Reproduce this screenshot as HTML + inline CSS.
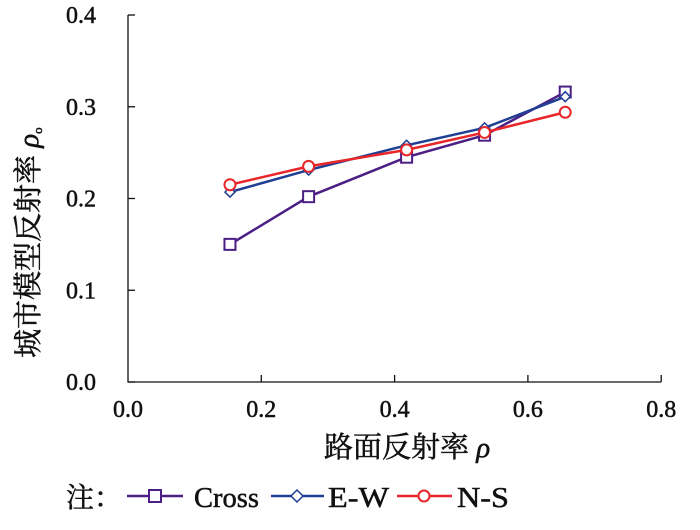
<!DOCTYPE html>
<html><head><meta charset="utf-8"><style>
body{margin:0;background:#fff}
svg text{font-family:"Liberation Serif","Noto Serif CJK SC",serif;fill:#111}
.b{stroke:#111;stroke-width:0.5}
</style></head><body>
<svg id="chart" width="700" height="525" viewBox="0 0 700 525">
<g id="axes"></g><g id="series"></g>
<text x="0" y="0" font-size="29" class="b" transform="translate(38 358) rotate(-90)">城市模型反射率 <tspan font-style="italic">ρ</tspan><tspan font-size="13" dy="4">o</tspan></text>
<text x="324" y="457" font-size="29" class="b">路面反射率 <tspan font-style="italic">ρ</tspan></text>
<g>
<text x="66" y="507" font-size="28" class="b">注：</text>
<line x1="127" y1="496" x2="183" y2="496" stroke="#4b1f84" stroke-width="2.5"/>
<rect x="149" y="490" width="12" height="12" fill="#fff" stroke="#4b1f84" stroke-width="2"/>
<text x="194" y="507" font-size="28" class="b" textLength="65" lengthAdjust="spacingAndGlyphs">Cross</text>
<line x1="271" y1="496" x2="324" y2="496" stroke="#1f3f95" stroke-width="2.5"/>
<path d="M297 490 L303 496 L297 502 L291 496Z" fill="#fff" stroke="#1f3f95" stroke-width="1.5"/>
<text x="328" y="507" font-size="28" class="b" textLength="61" lengthAdjust="spacingAndGlyphs">E-W</text>
<line x1="397" y1="496" x2="452" y2="496" stroke="#e8262a" stroke-width="2.5"/>
<circle cx="424" cy="496" r="5.5" fill="#fff" stroke="#e8262a" stroke-width="2"/>
<text x="457" y="507" font-size="28" class="b" textLength="52" lengthAdjust="spacingAndGlyphs">N-S</text>
</g>
</svg>
<script>
const xTicks=[0.0,0.2,0.4,0.6,0.8];
const yTicks=[0.0,0.1,0.2,0.3,0.4];
const xVals=[0.153,0.271,0.418,0.535,0.656];
const crossVals=[0.150,0.202,0.245,0.269,0.316];
const ewVals=[0.207,0.231,0.258,0.277,0.311];
const nsVals=[0.215,0.235,0.253,0.272,0.294];
const X=v=>128+v*666.5, Y=v=>382-v*917.5;
const ns="http://www.w3.org/2000/svg";
function mk(t,a,p){const e=document.createElementNS(ns,t);for(const k in a)e.setAttribute(k,a[k]);p.appendChild(e);return e;}
const ax=document.getElementById('axes');
let l=mk('path',{d:`M${X(0)} ${Y(0.4)} V${Y(0)} H${X(0.8)}`,fill:'none',stroke:'#111','stroke-width':1.3},ax);


xTicks.forEach(v=>{if(v>0)mk('line',{x1:X(v),x2:X(v),y1:Y(0),y2:Y(0)-7,stroke:'#111','stroke-width':1.3},ax);
 const t=mk('text',{x:X(v),y:Y(0)+35,'font-size':24,'text-anchor':'middle',class:'b'},ax);t.textContent=v.toFixed(1);
 
 });
yTicks.forEach(v=>{mk('line',{x1:X(0),x2:X(0)+7,y1:Y(v),y2:Y(v),stroke:'#111','stroke-width':1.3},ax);
 const t=mk('text',{x:96,y:Y(v)+8,'font-size':24,'text-anchor':'end',class:'b'},ax);t.textContent=v.toFixed(1);
 
 });
const sg=document.getElementById('series');
function series(vals,color,marker,name){
 const g=mk('g',{},sg);
 
 
 mk('polyline',{points:vals.map((v,i)=>X(xVals[i])+','+Y(v)).join(' '),fill:'none',stroke:color,'stroke-width':2.5},g);
 vals.forEach((v,i)=>{const x=X(xVals[i]),y=Y(v);let m;
  if(marker==='sq')m=mk('rect',{x:x-5.5,y:y-5.5,width:11,height:11,fill:'#fff',stroke:color,'stroke-width':2},g);
  else if(marker==='dia')m=mk('path',{d:`M${x} ${y-5}L${x+5} ${y}L${x} ${y+5}L${x-5} ${y}Z`,fill:'#fff',stroke:color,'stroke-width':1.5},g);
  else m=mk('circle',{cx:x,cy:y,r:5.5,fill:'#fff',stroke:color,'stroke-width':2},g);
  
  });
}
series(crossVals,'#4b1f84','sq','cross-series');
series(ewVals,'#1f3f95','dia','ew-series');
series(nsVals,'#e8262a','circ','ns-series');
</script>
</body></html>
